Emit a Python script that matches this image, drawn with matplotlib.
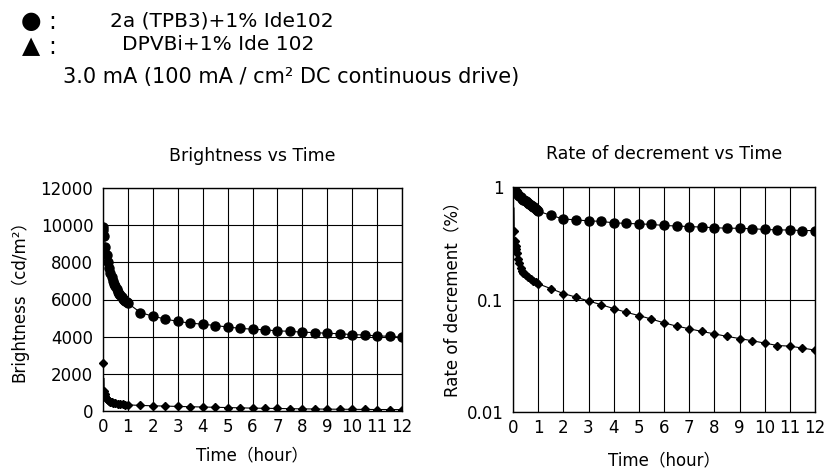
import matplotlib
matplotlib.use("Agg")
import matplotlib.pyplot as plt
from matplotlib.ticker import NullLocator

plt.rcParams["font.family"] = ["DejaVu Sans", "Noto Sans CJK JP"]

# 2a (TPB3)+1% Ide102 : dense readings in the first hour, then every 30 min
circ_t = [0, 0.02, 0.05, 0.1, 0.15, 0.2, 0.25, 0.3, 0.35, 0.4, 0.45, 0.5,
          0.55, 0.6, 0.65, 0.7, 0.75, 0.8, 0.85, 0.9, 0.95, 1.0,
          1.5, 2, 2.5, 3, 3.5, 4, 4.5, 5, 5.5, 6, 6.5, 7, 7.5, 8, 8.5, 9,
          9.5, 10, 10.5, 11, 11.5, 12]
circ_bright = [9900, 9750, 9400, 8850, 8400, 8000, 7700, 7450, 7200, 7000, 6850, 6700,
               6550, 6430, 6320, 6220, 6130, 6050, 5980, 5910, 5860, 5800,
               5300, 5100, 4950, 4820, 4730, 4670, 4600, 4520, 4450, 4400, 4370, 4310,
               4290, 4240, 4220, 4180, 4160, 4110, 4090, 4040, 4020, 3970]
circ_rate = [1.0, 0.98, 0.95, 0.91, 0.88, 0.85, 0.83, 0.81, 0.79, 0.77, 0.76, 0.75,
             0.73, 0.72, 0.71, 0.69, 0.68, 0.67, 0.66, 0.64, 0.62, 0.61,
             0.56, 0.52, 0.51, 0.50, 0.495, 0.48, 0.475, 0.47, 0.465, 0.455, 0.45, 0.445,
             0.44, 0.435, 0.43, 0.43, 0.425, 0.42, 0.415, 0.415, 0.41, 0.41]

# DPVBi+1% Ide 102 (first value of each list is the spike, drawn without marker)
tri_t = [0.04, 0.05, 0.08, 0.1, 0.12, 0.15, 0.2, 0.25, 0.3, 0.35, 0.4, 0.5,
         0.6, 0.7, 0.8, 0.9, 1.0,
         1.5, 2, 2.5, 3, 3.5, 4, 4.5, 5, 5.5, 6, 6.5, 7, 7.5, 8, 8.5, 9,
         9.5, 10, 10.5, 11, 11.5, 12]
tri_bright = [1750, 1050, 900, 800, 720, 650, 580, 530, 490, 460, 440, 410,
              390, 370, 355, 340, 330,
              300, 280, 265, 245, 230, 215, 200, 185, 170, 155, 145, 135,
              125, 115, 108, 100, 95, 90, 85, 80, 78, 75]
tri_rate = [0.65, 0.41, 0.33, 0.30, 0.28, 0.26, 0.23, 0.21, 0.19, 0.18, 0.172, 0.165,
            0.158, 0.152, 0.147, 0.142, 0.138,
            0.125, 0.113, 0.105, 0.097, 0.09, 0.083, 0.077, 0.072, 0.067, 0.062, 0.058,
            0.055, 0.052, 0.0495, 0.047, 0.045, 0.043, 0.041, 0.039, 0.0385, 0.037, 0.0355]
tri_start_t = [0]
tri_start_bright = [2600]

hours = list(range(13))
bright_ticks = [0, 2000, 4000, 6000, 8000, 10000, 12000]
rate_ticks = [0.01, 0.1, 1]
rate_labels = ["0.01", "0.1", "1"]

W, H = 824, 470
fig = plt.figure(figsize=(W / 100, H / 100), dpi=100)
ax1 = fig.add_axes([103 / W, 1 - 411 / H, 299 / W, 223 / H])
ax2 = fig.add_axes([513 / W, 1 - 412 / H, 302 / W, 225 / H])

circ_style = dict(color="black", marker="o", markersize=6.5, linewidth=0.8)
tri_style = dict(color="black", marker="D", markersize=3.6, linewidth=0.8,
                 markevery=list(range(1, len(tri_t))))

ax1.plot(circ_t, circ_bright, **circ_style)
ax1.plot(tri_t, tri_bright, **tri_style)
ax1.plot(tri_start_t, tri_start_bright, "D", color="black", markersize=3.6, clip_on=False)
ax1.set_ylim(0, 12000)
ax1.set_yticks(bright_ticks)

ax2.plot(circ_t, circ_rate, **circ_style)
ax2.plot(tri_t, tri_rate, **tri_style)
ax2.set_yscale("log")
ax2.set_ylim(0.01, 1)
ax2.set_yticks(rate_ticks)
ax2.set_yticklabels(rate_labels)
ax2.yaxis.set_minor_locator(NullLocator())

for ax in (ax1, ax2):
    ax.set_xlim(0, 12)
    ax.set_xticks(hours)
    ax.grid(True, color="black", linewidth=0.8)
    ax.tick_params(length=0, labelsize=12)
    ax.tick_params(axis="x", pad=5)
    ax.tick_params(axis="y", pad=7)
    for sp in ax.spines.values():
        sp.set_linewidth(1.0)
    ax.set_axisbelow(True)

ax1.set_title("Brightness vs Time", fontsize=12.5, pad=19.5)
ax2.set_title("Rate of decrement vs Time", fontsize=12.5, pad=20)
ax1.set_xlabel("Time（hour）", fontsize=12)
ax2.set_xlabel("Time（hour）", fontsize=12)
ax1.xaxis.set_label_coords(0.5, -0.161)
ax2.xaxis.set_label_coords(0.5, -0.175)
ax1.set_ylabel("Brightness（cd/m²）", fontsize=12)
ax2.set_ylabel("Rate of decrement（%）", fontsize=12)
ax1.yaxis.set_label_coords(-0.251, 0.51)
ax2.yaxis.set_label_coords(-0.172, 0.52)

# header legend
fig.text(31 / W, 1 - 21 / H, "●", fontsize=17, ha="center", va="center")
fig.text(31 / W, 1 - 46 / H, "▲", fontsize=17, ha="center", va="center")
fig.text(52 / W, 1 - 22 / H, ":", fontsize=17, ha="center", va="center")
fig.text(52 / W, 1 - 47 / H, ":", fontsize=17, ha="center", va="center")
fig.text(110 / W, 1 - 21 / H, "2a (TPB3)+1% Ide102", fontsize=14.5, va="center")
fig.text(122 / W, 1 - 45 / H, "DPVBi+1% Ide 102", fontsize=14.5, va="center")
fig.text(63 / W, 1 - 77 / H, "3.0 mA (100 mA / cm² DC continuous drive)",
         fontsize=15, va="center")

fig.savefig("out.png", dpi=100)
